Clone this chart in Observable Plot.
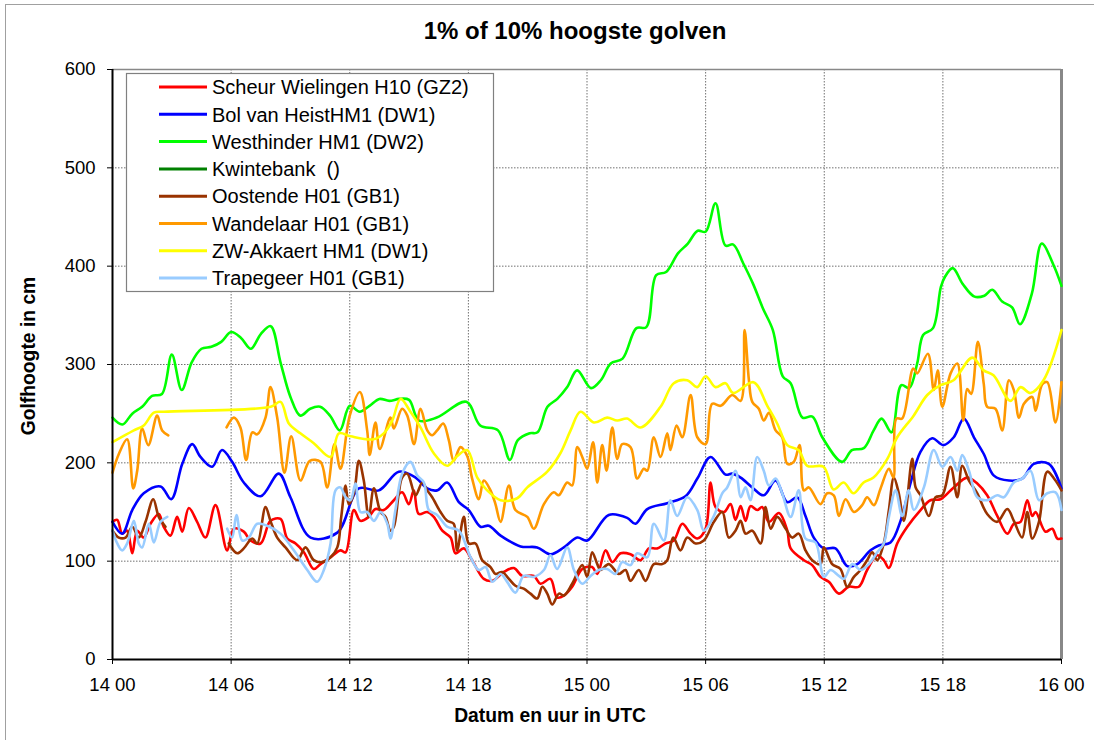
<!DOCTYPE html>
<html><head><meta charset="utf-8">
<script src="https://cdn.jsdelivr.net/npm/d3@7"></script>
<script src="https://cdn.jsdelivr.net/npm/@observablehq/plot@0.6"></script>
<style>body{margin:0;background:#fff} svg{display:block}</style>
</head><body><div id="chart"></div>
<script>
const seriesNames = ["Scheur Wielingen H10 (GZ2)","Bol van HeistHM1 (DW1)","Westhinder HM1 (DW2)","Kwintebank  ()","Oostende H01 (GB1)","Wandelaar H01 (GB1)","ZW-Akkaert HM1 (DW1)","Trapegeer H01 (GB1)"];
const seriesColors = ["#FF0000","#0000FF","#00FF00","#008000","#993300","#FF9900","#FFFF00","#99CCFF"];
const xTicks = [0,6,12,18,24,30,36,42,48];
const xTickLabels = ["14 00","14 06","14 12","14 18","15 00","15 06","15 12","15 18","16 00"];
const yTicks = [0,100,200,300,400,500,600];

// [hours since 14 00, value cm]
const scheur = [[0,140],[0.24,142],[0.49,128],[0.74,131],[1.0,108],[1.25,131],[1.58,124],[1.92,138],[2.34,148],[2.59,135],[2.93,126],[3.27,145],[3.53,130],[3.86,154],[4.28,140],[4.7,124],[5.21,157],[5.8,111],[6.14,133],[6.64,130],[6.98,121],[7.49,118],[7.99,141],[8.5,143],[8.84,123],[9.26,118],[9.68,109],[10.18,92],[10.52,97],[11.03,104],[11.53,111],[11.79,109],[12.21,152],[12.54,141],[12.96,145],[13.3,153],[13.72,152],[14.23,162],[14.65,170],[14.99,158],[15.24,172],[15.49,148],[15.92,150],[16.25,145],[16.68,131],[17.1,124],[17.35,108],[17.77,113],[18.19,101],[18.78,82],[19.21,80],[19.79,89],[20.3,93],[20.72,85],[21.31,85],[21.65,77],[22.15,82],[22.49,63],[22.83,65],[23.25,74],[23.76,92],[24.26,94],[24.52,87],[24.94,111],[25.28,99],[25.7,108],[26.2,107],[26.71,101],[27.13,113],[27.55,113],[27.97,118],[28.39,121],[28.82,138],[29.24,128],[29.58,123],[30.0,133],[30.25,180],[30.5,155],[30.93,150],[31.26,158],[31.51,142],[31.77,156],[32.02,141],[32.27,156],[32.61,152],[32.86,155],[33.2,140],[33.71,149],[34.13,131],[34.3,113],[34.97,101],[35.39,96],[35.81,84],[36.23,79],[36.74,67],[37.24,74],[37.75,74],[38.17,91],[38.68,106],[39.01,101],[39.27,93],[39.69,118],[40.2,135],[40.87,152],[41.37,162],[41.88,163],[42.55,175],[43.23,185],[43.74,179],[44.24,167],[44.75,146],[45.26,128],[45.59,138],[45.93,140],[46.27,162],[46.52,146],[46.69,150],[47.19,130],[47.53,133],[47.79,123],[48,123]];

const bolVanHeist = [[0,140],[0.49,128],[1.0,152],[1.58,169],[2.43,176],[2.97,163],[3.53,199],[4.03,219],[4.45,206],[5.04,196],[5.54,213],[6.05,201],[6.64,180],[7.49,166],[8.41,189],[9.0,165],[10.02,124],[11.37,129],[12.46,174],[13.47,172],[14.48,191],[15.33,185],[15.92,174],[16.42,172],[16.93,180],[17.52,160],[18.02,152],[18.61,135],[19.03,136],[19.63,126],[20.64,115],[21.48,114],[22.15,107],[22.83,114],[23.51,124],[24.01,121],[25.1,147],[26.03,144],[26.45,138],[27.05,153],[28.06,159],[28.98,166],[29.58,184],[30.25,206],[31.01,188],[31.35,189],[31.77,185],[32.36,175],[32.94,167],[33.54,182],[34.13,160],[34.63,165],[35.05,146],[35.47,124],[35.98,113],[36.57,113],[37.16,95],[37.67,97],[38.34,111],[38.76,116],[39.35,119],[39.86,141],[40.36,179],[40.86,211],[41.46,225],[42.02,218],[42.55,226],[43.06,245],[43.57,226],[44.07,209],[44.58,187],[45.34,182],[46.01,184],[46.6,199],[47.36,199],[48,174]];

const westhinder = [[0,246],[0.5,239],[1,250],[1.5,257],[2,268],[2.5,270],[3,310],[3.5,274],[4,302],[4.5,316],[5,318],[5.5,323],[6,333],[6.5,327],[7,316],[7.5,331],[8,339],[8.5,302],[9,267],[9.5,248],[10,255],[10.5,257],[11,248],[11.5,233],[12,258],[12.5,252],[13,258],[13.5,265],[14,263],[14.5,265],[15,264],[15.5,243],[16.4,246],[17.9,262],[18.6,238],[19.5,233],[20.1,203],[20.5,223],[21.1,230],[21.5,231],[22,257],[22.5,265],[23,277],[23.5,294],[24.2,276],[24.7,284],[25.2,301],[25.8,306],[26.5,337],[27,338],[27.5,391],[28,394],[28.6,413],[29.1,423],[29.6,436],[30,435],[30.5,464],[31,421],[31.4,422],[31.9,403],[32.4,382],[32.9,357],[33.4,335],[33.9,288],[34.3,281],[34.9,246],[35.4,247],[35.9,226],[36.9,201],[37.4,213],[38,215],[38.5,233],[38.9,245],[39.4,231],[39.9,279],[40.3,276],[40.7,301],[41,330],[41.5,337],[41.9,379],[42.1,389],[42.5,398],[43,382],[43.6,369],[44.1,370],[44.5,376],[45,364],[45.5,358],[45.9,341],[46.5,372],[47,423],[47.6,401],[48,380]];

const kwintebank = [];

const oostende = [[0,131],[0.32,124],[0.66,124],[1.0,135],[1.33,124],[1.67,140],[2.06,163],[2.34,145],[2.68,135],[4.2,null],[5.88,118],[6.31,108],[6.64,113],[7.07,123],[7.32,118],[7.74,155],[7.99,141],[8.33,124],[8.75,114],[9.34,101],[9.76,114],[10.18,101],[10.61,99],[11.03,104],[11.37,114],[11.57,145],[11.79,177],[11.95,158],[12.21,169],[12.46,202],[12.71,182],[12.96,145],[13.22,174],[13.56,150],[13.81,145],[14.06,131],[14.23,135],[14.48,169],[14.65,185],[14.91,189],[15.33,167],[15.67,180],[15.92,172],[16.17,165],[16.59,150],[16.93,141],[17.26,138],[17.43,111],[17.77,145],[18.02,118],[18.36,118],[18.7,101],[19.12,94],[19.37,87],[19.71,89],[20.05,82],[20.38,75],[20.8,72],[21.14,67],[21.48,62],[21.74,74],[21.99,67],[22.24,56],[22.58,67],[22.83,65],[23.25,77],[23.76,96],[24.01,84],[24.26,109],[24.52,97],[24.68,91],[25.1,97],[25.61,87],[25.95,91],[26.2,80],[26.62,91],[26.96,80],[27.38,97],[27.8,97],[28.06,101],[28.36,124],[28.73,111],[29.07,124],[29.49,118],[29.91,121],[30.42,140],[30.84,150],[31.17,124],[31.51,131],[31.77,141],[32.02,128],[32.36,131],[32.78,118],[33.03,155],[33.29,133],[33.62,145],[34.05,133],[34.38,124],[34.71,128],[35.05,111],[35.39,101],[35.81,97],[35.98,114],[36.4,97],[36.82,92],[37.16,74],[37.5,84],[37.84,91],[38.17,101],[38.43,109],[38.68,101],[39.01,118],[39.27,152],[39.52,185],[39.77,169],[40.03,141],[40.45,204],[40.62,175],[40.87,167],[41.29,146],[41.63,165],[41.97,167],[42.39,196],[42.73,165],[42.98,197],[43.32,182],[43.74,169],[44.24,148],[44.75,140],[45.26,153],[45.59,141],[46.01,124],[46.27,150],[46.52,123],[46.86,140],[47.28,191],[47.62,184],[48,172]];

const wandelaar = [[0,190],[0.32,209],[0.74,224],[1.05,174],[1.25,192],[1.5,235],[1.81,218],[2.26,248],[2.51,233],[2.82,228],[4.2,null],[5.77,236],[6.14,246],[6.47,236],[6.76,203],[7.07,231],[7.32,229],[7.74,246],[7.99,277],[8.33,246],[8.7,190],[9.04,227],[9.51,182],[9.98,202],[10.52,201],[10.86,175],[11.23,219],[11.53,194],[12.0,248],[12.51,272],[12.88,233],[13.01,208],[13.3,241],[13.52,214],[14.06,246],[14.23,235],[14.65,255],[14.91,248],[15.25,219],[15.58,255],[15.92,233],[16.17,228],[16.42,233],[16.73,240],[17.01,223],[17.26,202],[17.6,216],[17.94,207],[18.19,184],[18.53,163],[18.78,182],[19.12,172],[19.37,158],[19.63,140],[20.05,177],[20.38,152],[20.98,145],[21.31,133],[21.82,158],[22.32,170],[22.57,167],[23.0,180],[23.25,177],[23.51,216],[23.76,206],[24.01,194],[24.31,221],[24.52,180],[24.77,218],[24.99,192],[25.28,236],[25.53,204],[25.78,219],[26.2,216],[26.54,184],[26.87,194],[27.05,192],[27.38,226],[27.72,206],[28.06,230],[28.22,213],[28.53,238],[28.82,226],[29.24,269],[29.58,226],[30.0,219],[30.33,260],[30.76,258],[31.35,269],[31.77,263],[31.97,335],[32.19,284],[32.36,262],[32.69,255],[32.94,243],[33.2,251],[33.54,233],[33.87,226],[34.13,199],[34.46,201],[34.75,218],[34.97,172],[35.22,175],[35.81,158],[36.15,169],[36.48,167],[36.74,146],[37.08,163],[37.5,150],[37.92,157],[38.17,165],[38.51,157],[38.85,174],[39.27,194],[39.5,185],[39.65,245],[39.94,245],[40.5,296],[40.7,291],[41.24,311],[41.54,274],[41.74,294],[41.97,257],[42.39,291],[42.73,301],[43.03,243],[43.23,275],[43.43,270],[43.77,323],[44.07,280],[44.24,257],[44.66,255],[45.0,233],[45.34,284],[45.59,274],[45.85,246],[46.1,260],[46.52,267],[46.69,253],[47.03,280],[47.28,282],[47.7,241],[48,282]];

const zwAkkaert = [[0,221],[1.08,233],[1.58,238],[2.09,251],[2.6,252],[8.0,257],[8.5,262],[8.92,240],[9.5,230],[10.18,220],[11.03,206],[11.45,230],[12.04,227],[13.2,224],[13.72,230],[14.15,243],[14.57,265],[15.07,252],[15.58,236],[16.24,210],[16.93,197],[17.44,207],[17.94,213],[18.45,185],[18.95,172],[19.63,162],[20.47,164],[20.98,175],[21.99,191],[22.66,210],[23.17,233],[23.67,252],[24.35,241],[25.02,246],[25.53,243],[26.03,245],[26.71,236],[27.72,257],[28.39,281],[29.07,284],[29.57,277],[30.0,288],[30.5,277],[31.0,281],[31.4,271],[32.42,282],[33.12,258],[33.62,240],[34.13,218],[34.7,213],[35.14,197],[35.96,196],[36.47,173],[36.98,180],[37.48,169],[37.99,180],[38.49,185],[39.19,204],[39.69,226],[40.52,248],[41.21,269],[41.88,279],[42.54,284],[43.49,307],[44.06,294],[44.56,289],[45.42,263],[45.93,277],[46.43,271],[47.09,284],[48,335]];

const trapegeer = [[0,131],[0.24,118],[0.49,111],[0.74,118],[1.08,141],[1.33,118],[1.5,114],[1.84,138],[2.09,119],[2.43,140],[2.77,145],[4.2,null],[5.8,133],[6.05,124],[6.27,147],[6.56,121],[6.89,124],[7.32,138],[7.82,136],[8.5,128],[9.17,111],[9.85,91],[10.35,79],[10.69,91],[11.03,118],[11.28,172],[11.53,175],[11.79,165],[12.04,162],[12.29,179],[12.54,150],[12.88,150],[13.22,141],[13.56,150],[13.9,138],[14.06,123],[14.31,152],[14.65,189],[15.07,201],[15.42,187],[15.75,180],[16.0,152],[16.42,147],[16.93,135],[17.52,131],[18.11,104],[18.53,91],[18.87,94],[19.21,79],[19.63,87],[19.96,79],[20.38,68],[20.8,85],[21.31,84],[21.82,91],[22.15,106],[22.49,92],[23.0,114],[23.34,91],[23.76,77],[24.18,85],[24.6,91],[25.02,92],[25.44,87],[25.78,99],[26.2,96],[26.54,108],[27.05,104],[27.38,138],[27.89,121],[28.22,162],[28.56,146],[29.07,165],[29.58,152],[29.91,131],[30.42,146],[30.84,169],[31.09,175],[31.51,192],[31.77,165],[32.02,175],[32.27,162],[32.61,206],[32.94,192],[33.2,177],[33.54,184],[33.87,169],[34.3,145],[34.71,172],[35.05,123],[35.56,119],[35.98,84],[36.32,91],[36.74,85],[37.0,82],[37.42,97],[37.84,91],[38.26,97],[38.68,109],[39.01,118],[39.27,145],[39.61,172],[39.94,146],[40.27,172],[40.53,152],[41.04,175],[41.54,213],[41.97,196],[42.39,206],[42.73,192],[42.98,208],[43.32,192],[43.74,165],[44.24,162],[44.75,167],[45.08,165],[45.59,180],[46.01,184],[46.43,192],[46.86,162],[47.28,169],[47.7,170],[48,152]];

const allSeries = [scheur, bolVanHeist, westhinder, kwintebank, oostende, wandelaar, zwAkkaert, trapegeer];

const FONT = "Arial, 'Liberation Sans', Helvetica, sans-serif";

const lineMarks = allSeries.map((arr, i) =>
  Plot.line(arr.map(([t, v]) => ({t, v})), {
    x: "t", y: "v", stroke: seriesColors[i], strokeWidth: 2.6,
    curve: "catmull-rom"
  })
);

const chart = Plot.plot({
  width: 1094, height: 740,
  marginLeft: 112, marginRight: 33, marginTop: 69, marginBottom: 81,
  style: {fontFamily: FONT, fontSize: "18.5px", color: "#000", background: "#fff", overflow: "visible"},
  x: {domain: [0, 48]},
  y: {domain: [0, 600]},
  marks: [
    Plot.gridY(yTicks.filter(d => d > 0 && d < 600), {stroke: "#707070", strokeOpacity: 1, strokeDasharray: "1.5,1.5", strokeWidth: 1}),
    Plot.gridX(xTicks.filter(d => d > 0 && d < 48), {stroke: "#707070", strokeOpacity: 1, strokeDasharray: "1.5,1.5", strokeWidth: 1}),
    Plot.ruleY([600], {stroke: "#888", strokeWidth: 1.5}),
    Plot.ruleX([48], {stroke: "#888", strokeWidth: 3}),
    ...lineMarks,
    Plot.axisY(yTicks, {tickSize: 5, tickPadding: 12, label: null, fontSize: 18.5}),
    Plot.axisX(xTicks, {tickSize: 5, tickPadding: 13, label: null, fontSize: 18.5,
      tickFormat: d => xTickLabels[xTicks.indexOf(d)]}),
    Plot.ruleX([0], {stroke: "#000", strokeWidth: 2}),
    Plot.ruleY([0], {stroke: "#000", strokeWidth: 2})
  ]
});

const svg = d3.select(chart);
// outer chart border
svg.insert("rect", ":first-child").attr("x", 5.5).attr("y", 4.5).attr("width", 1200).attr("height", 900)
  .attr("fill", "none").attr("stroke", "#a0a0a0").attr("stroke-width", 1);
// title
svg.append("text").attr("x", 575).attr("y", 39).attr("text-anchor", "middle")
  .attr("font-family", FONT).attr("font-weight", "bold").attr("font-size", 24).attr("fill", "#000")
  .text("1% of 10% hoogste golven");
// x label
svg.append("text").attr("x", 550).attr("y", 721.5).attr("text-anchor", "middle")
  .attr("font-family", FONT).attr("font-weight", "bold").attr("font-size", 19.3).attr("fill", "#000")
  .text("Datum en uur in UTC");
// y label
svg.append("text").attr("transform", "translate(35,356) rotate(-90)").attr("text-anchor", "middle")
  .attr("font-family", FONT).attr("font-weight", "bold").attr("font-size", 19.3).attr("fill", "#000")
  .text("Golfhoogte in cm");
// legend
const lg = svg.append("g").attr("text-anchor", "start");
lg.append("rect").attr("x", 126.5).attr("y", 73.5).attr("width", 367).attr("height", 218)
  .attr("fill", "#fff").attr("stroke", "#808080").attr("stroke-width", 1.2);
seriesNames.forEach((n, i) => {
  const y = 87 + i * 27.3;
  lg.append("line").attr("x1", 159).attr("x2", 207).attr("y1", y).attr("y2", y)
    .attr("stroke", seriesColors[i]).attr("stroke-width", 3);
  lg.append("text").attr("x", 212).attr("y", y).attr("dy", "0.36em").attr("text-anchor", "start")
    .attr("font-family", FONT).attr("font-size", 20).attr("fill", "#000").text(n);
});

document.getElementById("chart").appendChild(chart);
</script>
</body></html>
